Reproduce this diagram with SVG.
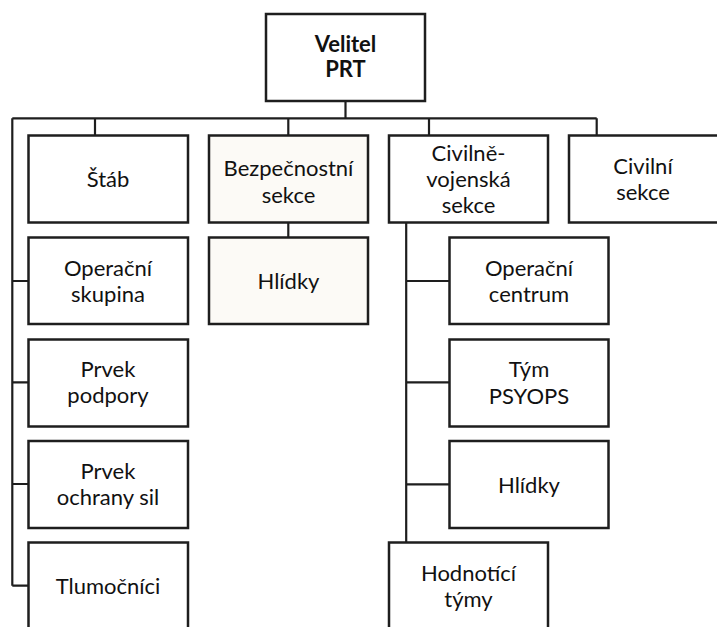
<svg xmlns="http://www.w3.org/2000/svg" width="717" height="627" viewBox="0 0 717 627">
<style>
.box{fill:#ffffff;stroke:#1e1e1e;stroke-width:2.5}
.tint{fill:#fcfaf6}
.ln{fill:none;stroke:#1e1e1e;stroke-width:2.2}
text{font-family:Lato,"Open Sans",sans-serif;font-size:22px;fill:#111;text-anchor:middle}
.b{font-weight:bold;font-size:22px}
</style>
<rect width="717" height="627" fill="#ffffff"/>
<g id="connectors">
<path class="ln" d="M345.5,101 V118.3 M12.3,118.3 H596.7 M95,118.3 V135.5 M288.3,118.3 V135.5 M429,118.3 V135.5 M596.7,118.3 V135.5"/>
<path class="ln" d="M12.3,118.3 V585.7 M12.3,281 H28.5 M12.3,382.3 H28.5 M12.3,484 H28.5 M12.3,585.7 H28.5"/>
<path class="ln" d="M288.3,222.5 V237.5"/>
<path class="ln" d="M406.2,222.5 V542.5 M406.2,281 H449.5 M406.2,382.3 H449.5 M406.2,484.3 H449.5"/>
</g>
<g id="velitel"><rect class="box" x="266" y="14" width="159" height="87"/><text class="b" x="345.5" y="51.5">Velitel</text><text class="b" x="345.5" y="77">PRT</text></g>
<g id="stab"><rect class="box" x="28.5" y="135.5" width="159.5" height="87"/><text x="108" y="187">Štáb</text></g>
<g id="bezpecnostni"><rect class="box tint" x="209" y="135.5" width="159" height="87"/><text x="288.5" y="176">Bezpečnostní</text><text x="288.5" y="203">sekce</text></g>
<g id="civilne-vojenska"><rect class="box" x="389" y="135.5" width="159" height="87"/><text x="468.5" y="160.5">Civilně-</text><text x="468.5" y="187">vojenská</text><text x="468.5" y="213">sekce</text></g>
<g id="civilni"><rect class="box" x="569" y="135.5" width="160" height="87"/><text x="643" y="173.5">Civilní</text><text x="643" y="200">sekce</text></g>
<g id="operacni-skupina"><rect class="box" x="28.5" y="237.5" width="159.5" height="86.5"/><text x="108" y="276">Operační</text><text x="108" y="302">skupina</text></g>
<g id="hlidky-bezp"><rect class="box tint" x="209" y="237.5" width="159" height="86.5"/><text x="288.5" y="289">Hlídky</text></g>
<g id="operacni-centrum"><rect class="box" x="449.5" y="237.5" width="159" height="86.5"/><text x="529" y="276">Operační</text><text x="529" y="302">centrum</text></g>
<g id="prvek-podpory"><rect class="box" x="28.5" y="339.5" width="159.5" height="87"/><text x="108" y="377">Prvek</text><text x="108" y="403">podpory</text></g>
<g id="tym-psyops"><rect class="box" x="449.5" y="339.5" width="159" height="87"/><text x="529" y="377">Tým</text><text x="529" y="403.5">PSYOPS</text></g>
<g id="prvek-ochrany"><rect class="box" x="28.5" y="441" width="159.5" height="87"/><text x="108" y="478.5">Prvek</text><text x="108" y="505">ochrany sil</text></g>
<g id="hlidky-civ"><rect class="box" x="449.5" y="441" width="159" height="87"/><text x="529" y="493">Hlídky</text></g>
<g id="tlumocnici"><rect class="box" x="28.5" y="542.5" width="159.5" height="100"/><text x="108" y="594">Tlumočníci</text></g>
<g id="hodnotici-tymy"><rect class="box" x="389" y="542.5" width="159" height="100"/><text x="468.5" y="581">Hodnotící</text><text x="468.5" y="607">týmy</text></g>
</svg>
